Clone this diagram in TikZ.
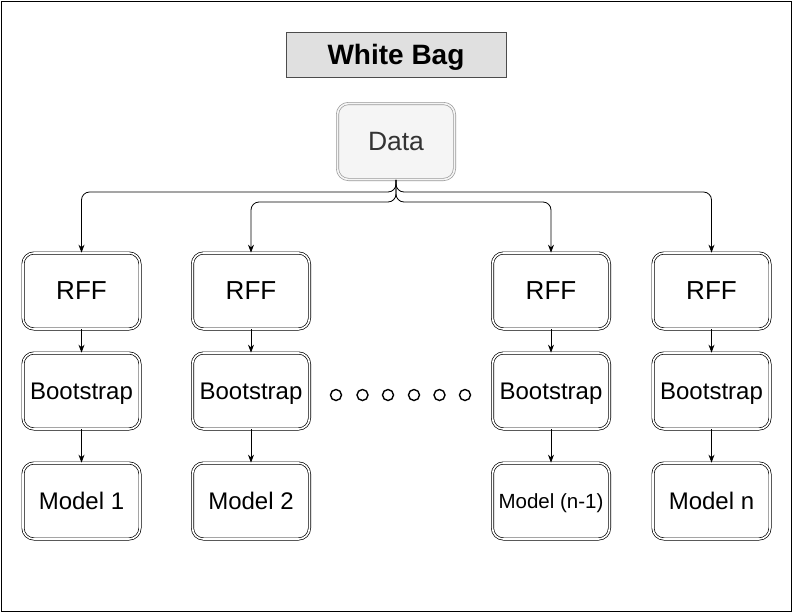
\documentclass[tikz,border=0pt]{standalone}
\usepackage{fontspec}
\setmainfont{Liberation Sans}
\usetikzlibrary{arrows.meta}
\definecolor{titlegray}{HTML}{E0E0E0}
\definecolor{datafill}{HTML}{F5F5F5}
\definecolor{datatext}{HTML}{333333}
\definecolor{databorder}{HTML}{999999}
\tikzset{
  dbox/.style={rectangle, rounded corners=11pt, draw=black, line width=0.7pt,
    double=white, double distance=1.6pt, minimum width=117pt, minimum height=76pt,
    inner sep=0pt, text depth=0pt, font=\fontsize{24}{28}\selectfont},
  arr/.style={-{Stealth[length=8pt,width=6pt]}, line width=0.8pt},
  dot/.style={circle, draw=black, line width=1.4pt, minimum size=11pt, inner sep=0pt},
}
\begin{document}
\begin{tikzpicture}[x=1pt,y=-1pt]
\useasboundingbox (0,0) rectangle (793,614);
\draw[line width=1pt] (1,1) rectangle (791,611);
\node[rectangle, draw=black!70, fill=titlegray, line width=0.8pt, minimum width=220pt, minimum height=45pt, inner sep=0pt, text depth=0pt, font=\fontsize{28}{30}\selectfont\bfseries] (title) at (396,54.5) {White Bag};
\node[dbox, draw=databorder, fill=datafill, double=datafill, text=datatext, font=\fontsize{26.5}{30}\selectfont] (data) at (396,141.5) {Data};
% columns
\foreach \i/\x in {1/81.5,2/251,3/551,4/711.5}{
  \node[dbox, font=\fontsize{26}{30}\selectfont] (r\i) at (\x,291) {RFF};
  \node[dbox, font=\fontsize{24}{28}\selectfont] (b\i) at (\x,391) {Bootstrap};
  \draw[arr] (r\i.south) -- (b\i.north);
}
\node[dbox] (m1) at (81.5,501) {Model 1};
\node[dbox] (m2) at (251,501) {Model 2};
\node[dbox, font=\fontsize{20.5}{24}\selectfont] (m3) at (551,501) {Model (n-1)};
\node[dbox] (m4) at (711.5,501) {Model n};
\foreach \i in {1,2,3,4}{
  \draw[arr] (b\i.south) -- (m\i.north);
}
\draw[arr, rounded corners=8pt] (data.south) -- (396,192) -| (r1.north);
\draw[arr, rounded corners=8pt] (data.south) -- (396,192) -| (r4.north);
\draw[arr, rounded corners=8pt] (data.south) -- (396,202) -| (r2.north);
\draw[arr, rounded corners=8pt] (data.south) -- (396,202) -| (r3.north);
% dots
\foreach \j/\x in {1/336,2/362.5,3/388,4/414,5/439.5,6/465}{
  \node[dot] (d\j) at (\x,395) {};
}
\end{tikzpicture}
\end{document}
